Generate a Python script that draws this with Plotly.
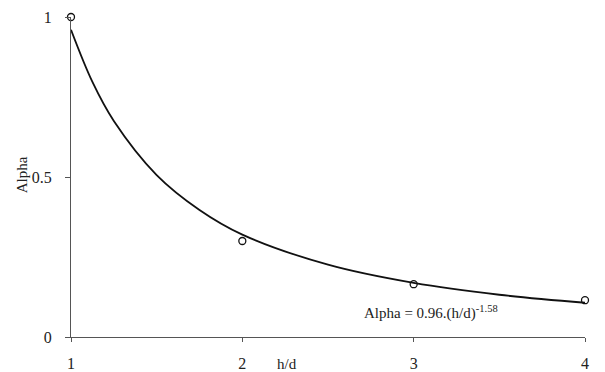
import plotly.graph_objects as go

# Measured data points (h/d, Alpha)
hd = [1, 2, 3, 4]
alpha = [1.0, 0.30, 0.165, 0.115]

# Trendline values
curve_hd = [1, 1.125, 1.25, 1.5, 1.75, 2, 2.5, 3, 3.5, 4]
curve_alpha = [0.96, 0.797, 0.675, 0.506, 0.397, 0.32, 0.226, 0.169, 0.132, 0.107]

x_ticks = [1, 2, 3, 4]
y_ticks = [0, 0.5, 1]
y_tick_text = ["0", "0.5", "1"]

FONT = "Liberation Serif, Times New Roman, serif"

fig = go.Figure()
fig.add_trace(go.Scatter(x=curve_hd, y=curve_alpha, mode="lines",
                         line=dict(color="#111111", width=1.8, shape="spline"),
                         hoverinfo="skip", cliponaxis=False))
fig.add_trace(go.Scatter(x=hd, y=alpha, mode="markers",
                         marker=dict(symbol="circle-open", size=7, color="#111111",
                                     line=dict(width=1.3, color="#111111")),
                         cliponaxis=False))

# The page body has an 8px default margin, so the figure is sized to fit the window.
fig.update_layout(
    width=597, height=364,
    margin=dict(l=63, r=20, t=9, b=35, autoexpand=False),
    paper_bgcolor="white", plot_bgcolor="white",
    showlegend=False,
    font=dict(family=FONT, size=15, color="#222222"),
    xaxis=dict(range=[1, 4], tickvals=x_ticks, ticks="outside", ticklen=4,
               tickcolor="#555555", showgrid=False, zeroline=False,
               showline=True, linecolor="#555555", linewidth=1.2,
               automargin=False, ticklabelstandoff=8,
               tickfont=dict(family=FONT, size=16)),
    yaxis=dict(range=[0, 1], tickvals=y_ticks, ticktext=y_tick_text,
               ticks="outside", ticklen=5, tickcolor="#555555",
               showgrid=False, zeroline=False, showline=True,
               linecolor="#555555", linewidth=1.2,
               automargin=False, ticklabelstandoff=10,
               tickfont=dict(family=FONT, size=16)),
    annotations=[
        dict(text="h/d", xref="paper", yref="paper", x=0.42, y=-0.085,
             xanchor="center", yanchor="middle", showarrow=False,
             font=dict(family=FONT, size=15)),
        dict(text="Alpha", xref="paper", yref="paper", x=-0.095, y=0.506,
             xanchor="center", yanchor="middle", textangle=-90, showarrow=False,
             font=dict(family=FONT, size=15)),
        dict(text="Alpha = 0.96.(h/d)<sup>-1.58</sup>", xref="paper", yref="paper",
             x=0.566, y=0.078, xanchor="left", yanchor="middle", showarrow=False,
             font=dict(family=FONT, size=15)),
    ],
)

fig.write_html("out.html")
